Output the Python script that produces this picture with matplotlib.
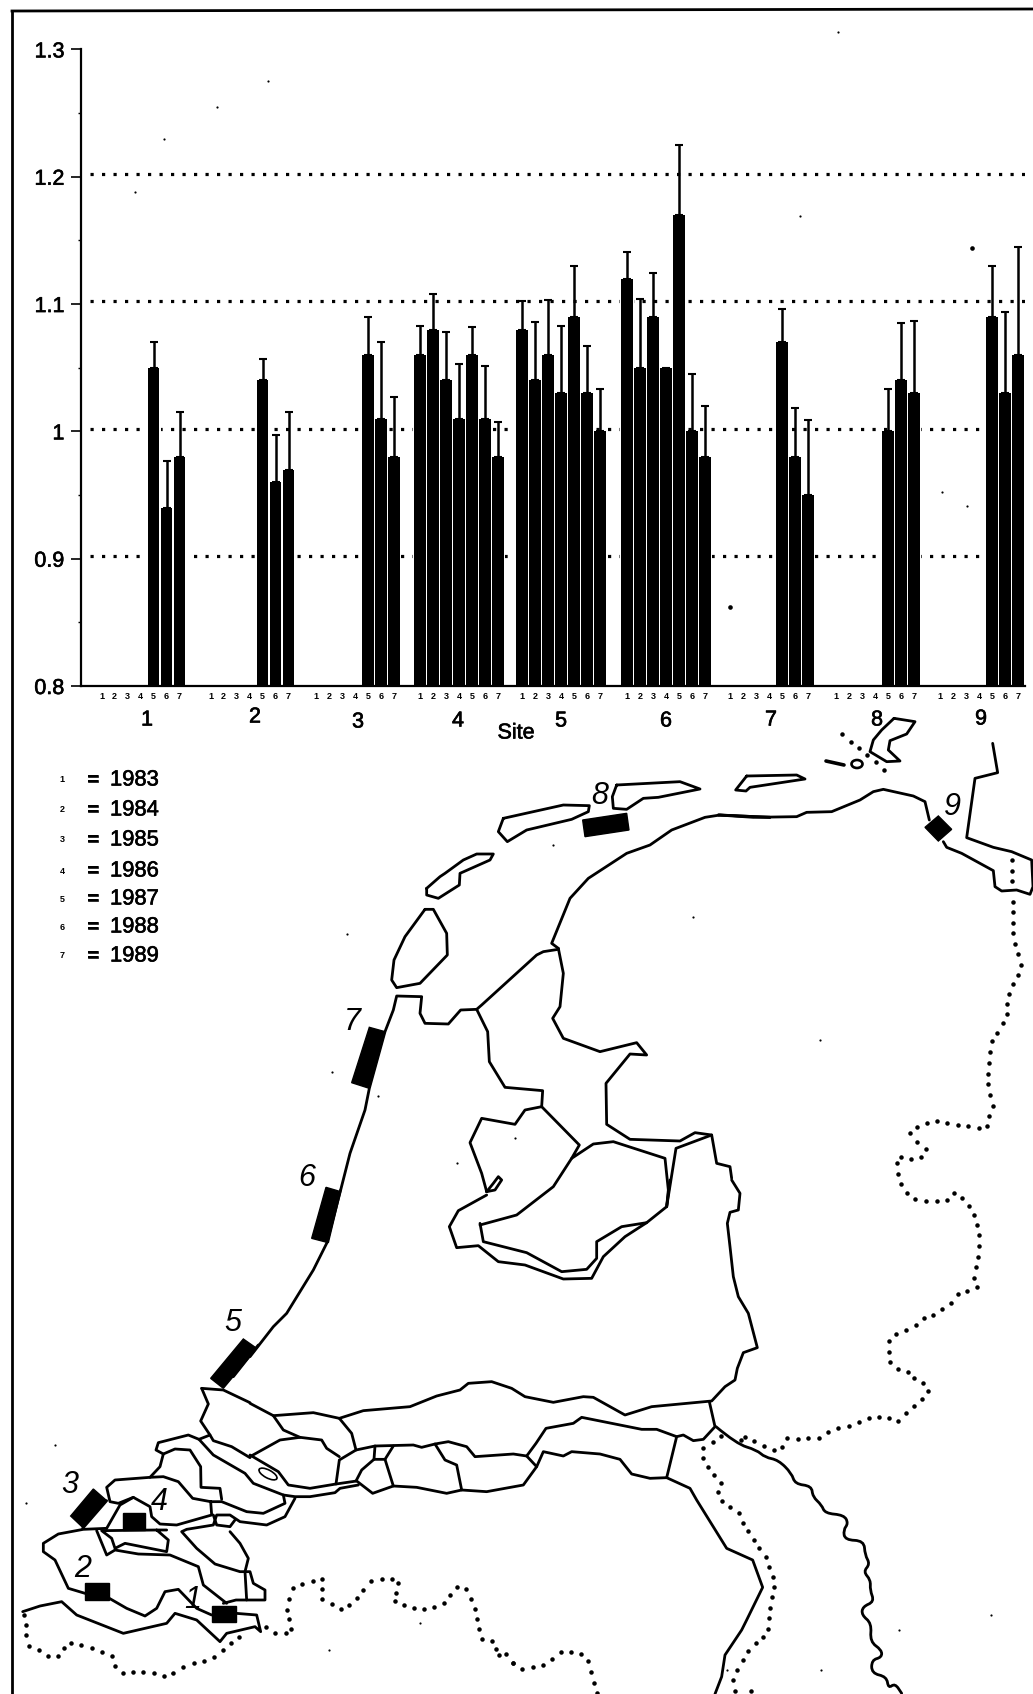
import matplotlib
matplotlib.use("Agg")
import matplotlib.pyplot as plt
import matplotlib.patheffects as pe
from matplotlib.patches import Polygon, Ellipse, PathPatch
from matplotlib.path import Path

plt.rcParams['font.family'] = ['Liberation Sans', 'DejaVu Sans']

# bar chart data, nan = no error bar
nan = float('nan')
sites = [1, 2, 3, 4, 5, 6, 7, 8, 9]
years_short = [5, 6, 7]
years_full = [1, 2, 3, 4, 5, 6, 7]
site_years = [years_short, years_short, years_short, years_full, years_full,
              years_full, years_short, years_short, years_short]
site_means = [[1.05, 0.94, 0.98],
              [1.04, 0.96, 0.97],
              [1.06, 1.01, 0.98],
              [1.06, 1.08, 1.04, 1.01, 1.06, 1.01, 0.98],
              [1.08, 1.04, 1.06, 1.03, 1.09, 1.03, 1.00],
              [1.12, 1.05, 1.09, 1.05, 1.17, 1.00, 0.98],
              [1.07, 0.98, 0.95],
              [1.00, 1.04, 1.03],
              [1.09, 1.03, 1.06]]
site_tops = [[1.07, 0.977, 1.015],
             [1.057, 0.997, 1.015],
             [1.09, 1.07, 1.027],
             [1.083, 1.108, 1.078, 1.053, 1.082, 1.051, 1.007],
             [1.102, 1.086, 1.103, 1.083, 1.13, 1.067, 1.033],
             [1.141, 1.104, 1.124, nan, 1.225, 1.045, 1.02],
             [1.096, 1.018, 1.009],
             [1.033, 1.085, 1.087],
             [1.13, 1.094, 1.145]]
y_ticks = [0.8, 0.9, 1.0, 1.1, 1.2, 1.3]
y_labels = ['0.8', '0.9', '1', '1.1', '1.2', '1.3']
y_minor = [0.85, 0.95, 1.05, 1.15, 1.25]
grid_levels = [0.9, 1.0, 1.1, 1.2]
legend_years = ['1983', '1984', '1985', '1986', '1987', '1988', '1989']

# where things sit on the sheet (pixels)
W, H = 1033, 1694
site_left = [101.5, 210.5, 316, 420, 522, 627, 730, 836, 940]
site_label_x = [147, 255, 358, 458, 561, 666, 771, 877, 981]
site_label_y = [720, 717, 722, 721, 721, 721, 720, 720, 719]
slot = 13
legend_y = [780, 810, 840, 871, 899, 927, 956]


def crop(x0, y0, pts):
    # traced on 3x crops, back to sheet pixels
    return [(x0 + p[0] / 3, y0 + p[1] / 3) for p in pts]


def wavy(pts):
    # rounded line through the midpoints, for the river
    verts = [pts[0]]
    codes = [Path.MOVETO]
    for i in range(1, len(pts) - 1):
        mid = ((pts[i][0] + pts[i + 1][0]) / 2, (pts[i][1] + pts[i + 1][1]) / 2)
        verts += [pts[i], mid]
        codes += [Path.CURVE3, Path.CURVE3]
    verts.append(pts[-1])
    codes.append(Path.LINETO)
    return Path(verts, codes)


# map outlines, traced per crop
lines_a = [
    [(605, 415), (625, 462), (602, 513), (630, 555), (640, 572), (695, 590), (750, 623)],
    [(630, 555), (597, 568), (640, 615), (735, 670), (760, 700), (850, 735), (855, 760), (790, 790), (740, 785), (665, 755), (632, 755), (578, 745), (535, 695), (490, 680), (450, 682), (345, 690), (320, 712), (330, 755), (355, 760), (400, 742), (450, 770), (455, 800), (480, 822), (530, 825), (635, 795), (632, 755)],
    [(597, 568), (565, 555), (475, 578), (468, 600), (490, 612), (525, 597), (570, 600), (602, 650), (603, 712), (660, 715), (665, 748)],
    [(490, 612), (480, 650), (450, 682)],
    [(400, 742), (360, 765), (320, 835)],
    [(320, 752), (248, 835)],
    [(500, 840), (470, 840), (305, 842), (335, 865), (345, 895), (375, 880), (450, 895), (500, 905), (505, 870), (470, 840)],
    [(320, 835), (250, 838), (175, 852), (130, 880), (130, 905), (165, 930), (205, 1015), (255, 1030), (328, 1045), (380, 1075), (435, 1098), (470, 1075), (495, 1025), (535, 1018), (590, 1075), (635, 1095)],
    [(290, 842), (320, 915), (345, 900), (415, 912), (510, 915), (595, 950), (610, 1005), (680, 1060)],
    [(670, 1060), (708, 1050), (795, 1050), (795, 1020), (760, 1000), (750, 965), (720, 965), (645, 942), (590, 895), (545, 845), (560, 838), (640, 825), (650, 795), (690, 795), (720, 815), (800, 825), (855, 800), (885, 745)],
    [(640, 795), (650, 825), (690, 830), (705, 810)],
    [(690, 845), (720, 880), (745, 925), (735, 965), (740, 1050)],
    [(68, 1085), (120, 1068), (185, 1055), (230, 1095), (370, 1150), (500, 1120), (525, 1090), (590, 1110), (660, 1175), (680, 1150), (765, 1130), (782, 1145), (770, 1095), (708, 1090)],
    [(775, 285), (700, 380)],
    [(605, 415), (670, 420), (750, 458)],
]
lines_b = [
    [(925, 715), (905, 700), (960, 565), (1015, 505), (1130, 430), (1200, 405), (1265, 360), (1365, 322), (1410, 315), (1560, 322)],
    [(925, 718), (880, 725), (860, 735), (695, 885), (680, 898), (632, 900), (595, 942), (525, 940), (510, 910), (515, 860), (440, 858), (430, 900), (405, 965), (358, 1135), (345, 1200), (300, 1330), (272, 1440)],
    [(925, 715), (940, 790), (930, 890), (908, 925), (940, 985), (1050, 1025), (1160, 998), (1190, 1035), (1140, 1032), (1068, 1120), (1070, 1243), (1140, 1288), (1290, 1293), (1335, 1268), (1385, 1275), (1400, 1360), (1440, 1370), (1445, 1405)],
    [(680, 898), (713, 965), (718, 1055), (765, 1132), (878, 1142), (875, 1190), (825, 1200), (795, 1243), (695, 1225), (660, 1298), (695, 1390), (710, 1445)],
    [(710, 1445), (735, 1440), (755, 1410), (745, 1400), (730, 1420), (710, 1445)],
    [(875, 1190), (988, 1305), (965, 1345), (1030, 1302), (1090, 1295), (1245, 1345), (1255, 1440), (1250, 1490)],
    [(1250, 1490), (1278, 1315), (1385, 1275)],
    [(965, 1345), (910, 1430), (800, 1515), (690, 1545)],
    [(525, 598), (550, 598), (590, 670), (592, 735), (510, 820), (440, 833), (425, 810), (432, 750), (465, 680), (525, 598)],
    [(530, 535), (570, 500), (585, 490), (640, 450), (680, 432), (730, 432), (720, 450), (630, 490), (628, 525), (565, 565), (530, 555), (530, 535)],
    [(760, 325), (940, 285), (1018, 287), (1015, 305), (965, 328), (830, 360), (772, 395), (745, 365), (760, 325)],
    [(1100, 225), (1290, 215), (1350, 237), (1225, 262), (1180, 265), (1130, 298), (1090, 295), (1087, 260), (1100, 225)],
]
lines_c = [
    [(390, 322), (235, 315)],
    [(235, 315), (340, 322), (470, 320), (500, 307), (575, 305), (660, 270), (700, 245), (730, 238), (820, 258), (855, 275), (868, 330)],
    [(910, 395), (920, 412), (965, 430), (1060, 482), (1065, 530), (1085, 543), (1130, 540), (1170, 553), (1179, 530), (1175, 450), (1115, 425), (1060, 412), (980, 383), (1005, 205), (1073, 188), (1058, 100)],
    [(320, 198), (470, 195), (495, 207), (330, 232), (318, 243), (287, 240), (320, 198)],
    [(762, 25), (825, 35), (800, 72), (750, 92), (745, 120), (780, 153), (740, 155), (690, 125), (700, 90), (725, 60), (762, 25)],
]
lines_d = [
    [(272, 30), (230, 190), (190, 270), (110, 400), (70, 440), (0, 530)],
    [(1445, 0), (1470, 40), (1465, 90), (1440, 97), (1432, 130), (1440, 200), (1450, 290), (1465, 350), (1495, 400), (1522, 503), (1480, 518), (1462, 565), (1455, 600), (1425, 620), (1385, 663), (1205, 680), (1125, 705), (1030, 652), (1000, 650), (910, 667), (825, 650), (785, 625), (725, 605), (655, 610), (630, 630), (560, 648), (480, 680), (340, 692), (268, 715), (190, 698), (70, 707), (0, 670)],
    [(710, 45), (625, 92), (598, 140), (620, 203), (685, 197), (745, 245), (825, 255), (940, 297), (1025, 295), (1060, 230), (1125, 170), (1190, 128), (1250, 80), (1260, 0)],
    [(690, 130), (700, 185), (830, 218), (935, 275), (1010, 268), (1040, 235), (1040, 185), (1115, 140), (1190, 128)],
    [(268, 715), (305, 760), (318, 810), (375, 798), (490, 795), (515, 802), (555, 792), (595, 785), (650, 800), (675, 830), (790, 822), (830, 828), (860, 860), (820, 915), (710, 935), (635, 930), (590, 940), (500, 922), (430, 918), (368, 940), (320, 903), (258, 912), (180, 925), (115, 915), (85, 875), (0, 825)],
    [(318, 810), (268, 840), (258, 912)],
    [(70, 707), (100, 750), (150, 772), (215, 780), (230, 805), (268, 830)],
    [(150, 772), (90, 780), (0, 830)],
    [(375, 798), (372, 838), (405, 838), (430, 798)],
    [(372, 838), (335, 870), (318, 903)],
    [(405, 838), (430, 918)],
    [(555, 792), (585, 840), (620, 855), (635, 930)],
    [(830, 828), (858, 790), (888, 745), (970, 730), (995, 712), (1175, 748), (1220, 748), (1280, 770), (1300, 765), (1330, 782), (1360, 778), (1395, 740), (1378, 665)],
    [(1280, 770), (1250, 893)],
    [(860, 860), (880, 815), (940, 828), (965, 815), (1050, 822), (1110, 838), (1145, 882), (1200, 895), (1250, 893), (1320, 925), (1340, 960), (1430, 1105), (1508, 1140), (1538, 1222), (1490, 1320), (1475, 1350), (1425, 1425), (1415, 1490), (1395, 1542)],
    [(100, 945), (135, 950), (180, 950), (255, 938), (270, 925), (325, 915)],
]
lines_e = [
    [(228, 740), (290, 792), (350, 810), (375, 832), (415, 840), (455, 880), (465, 912), (515, 918), (518, 950), (545, 975), (555, 1000), (612, 1005), (625, 1030), (610, 1050), (615, 1080), (672, 1082), (675, 1125), (690, 1152), (670, 1175), (692, 1200), (690, 1230), (703, 1265), (668, 1280), (665, 1305), (695, 1330), (690, 1385), (725, 1410), (725, 1432), (695, 1440), (695, 1480), (740, 1490), (745, 1525), (765, 1510), (785, 1540)],
]

# border dots
dots_a = [(72, 1095), (78, 1125), (78, 1155), (88, 1187), (117, 1200), (143, 1217), (175, 1217), (192, 1193), (212, 1178), (243, 1185), (275, 1195), (307, 1205), (337, 1217), (345, 1247), (368, 1270), (398, 1267), (430, 1265), (462, 1268), (492, 1277), (520, 1270), (550, 1252), (582, 1240), (612, 1232), (642, 1222), (668, 1200), (692, 1180), (718, 1160), (798, 1130), (825, 1150), (857, 1150), (873, 1138), (867, 1108), (860, 1080), (868, 1048), (880, 1015), (907, 1002), (938, 994), (967, 987), (965, 1018), (965, 1048), (995, 1062), (1022, 1078), (1047, 1066), (1070, 1043), (1090, 1020), (1112, 993), (1145, 987), (1175, 987), (1193, 1000), (1188, 1030), (1185, 1053), (1213, 1065), (1243, 1075), (1272, 1077), (1302, 1070), (1333, 1058), (1350, 1035), (1372, 1012), (1397, 1018), (1413, 1048), (1425, 1078), (1432, 1107), (1437, 1137), (1445, 1166), (1475, 1173), (1487, 1197), (1497, 1215), (1518, 1213), (1540, 1238)]
dots_c = [(1115, 450), (1115, 482), (1115, 512), (1118, 575), (1118, 607), (1118, 638), (1120, 670), (1125, 703), (1135, 733), (1143, 765), (1133, 795), (1118, 823), (1108, 852), (1102, 883), (1100, 912), (1088, 940), (1072, 968), (1055, 993), (1050, 1027), (1048, 1058), (1045, 1092), (1045, 1123), (1050, 1155), (1058, 1187), (1048, 1217), (1042, 1248), (1018, 1253), (985, 1248), (953, 1245), (922, 1240), (892, 1233), (860, 1238), (830, 1250), (810, 1270), (832, 1295), (857, 1318), (843, 1340), (813, 1347), (782, 1342), (772, 1360), (775, 1393), (782, 1423), (802, 1448), (826, 1468), (858, 1472), (890, 1473), (920, 1470), (943, 1450), (965, 1465), (987, 1487), (605, 72), (632, 95), (658, 115), (680, 135), (708, 157), (732, 180)]
dots_d = [(790, 1450), (817, 1467), (848, 1462), (880, 1455), (907, 1437), (933, 1416), (963, 1416), (993, 1422), (1015, 1442), (1022, 1475), (1033, 1510), (1042, 1540)]
dots_e = [(1002, 105), (1012, 135), (1018, 165), (1018, 198), (1013, 230), (1008, 260), (1003, 293), (1012, 322), (982, 332), (953, 343), (933, 368), (907, 388), (880, 405), (852, 415), (828, 435), (798, 450), (768, 462), (748, 482), (748, 515), (750, 547), (773, 567), (803, 577), (822, 595), (850, 610), (865, 632), (847, 658), (822, 677), (798, 698), (775, 722), (748, 715), (718, 710), (688, 715), (657, 727), (627, 738), (595, 745), (565, 755), (538, 775), (505, 775), (473, 777), (440, 775), (427, 800), (402, 810), (372, 797), (342, 783), (315, 770), (303, 780), (242, 768), (218, 787), (188, 803), (190, 833), (203, 860), (223, 884), (243, 908), (233, 936), (245, 962), (270, 982), (296, 998), (310, 1028), (324, 1053), (342, 1080), (358, 1105), (378, 1130), (388, 1160), (400, 1190), (403, 1220), (395, 1252), (390, 1283), (386, 1315), (384, 1346), (370, 1372), (347, 1390), (325, 1413), (308, 1440), (292, 1470), (278, 1500), (285, 1532), (333, 1532)]

# site boxes on the map
box_a = [[(730, 267), (770, 295), (670, 415), (632, 385)],
         [(280, 717), (320, 752), (248, 832), (212, 798)],
         [(368, 790), (436, 790), (436, 840), (368, 840)],
         [(255, 998), (328, 998), (328, 1050), (255, 1050)],
         [(635, 1067), (708, 1067), (708, 1115), (635, 1115)]]
box_b = [[(998, 330), (1130, 310), (1137, 360), (1005, 380)],
         [(358, 952), (405, 965), (358, 1135), (305, 1118)]]
box_c = [[(895, 318), (935, 358), (895, 393), (855, 352)]]
box_d = [[(228, 22), (272, 35), (235, 188), (185, 175)]]

map_labels = ['1', '2', '3', '4', '5', '6', '7', '8', '9']
map_label_x = [193, 83, 70, 159, 233, 307, 352, 600, 952]
map_label_y = [1600, 1569, 1485, 1502, 1323, 1178, 1022, 796, 807]

# scan specks
specks = [(164, 139), (135, 192), (268, 81), (217, 107), (838, 32), (800, 216), (942, 492), (967, 506),
          (553, 845), (693, 917), (347, 934), (332, 1072), (457, 1163), (515, 1138), (378, 1096), (820, 1040),
          (55, 1445), (26, 1503), (329, 1650), (420, 1623), (172, 1673), (899, 1630), (991, 1615), (727, 1670), (821, 1670)]
blobs = [(730, 607), (972, 248)]

bold = [pe.withStroke(linewidth=0.45, foreground='black')]

fig = plt.figure(figsize=(W / 100, H / 100), dpi=100)
bg = fig.add_axes([0, 0, 1, 1])
bg.set_xlim(0, W)
bg.set_ylim(H, 0)
bg.axis('off')

# outer frame of the scan
bg.plot([12, 12], [H, 11], color='black', lw=2)
bg.plot([12, W], [11, 9], color='black', lw=2)

for x0, y0, group in [(0, 1250, lines_a), (250, 710, lines_b), (640, 710, lines_c), (250, 1180, lines_d)]:
    for line in group:
        pts = crop(x0, y0, line)
        bg.plot([p[0] for p in pts], [p[1] for p in pts], color='black', lw=2,
                solid_joinstyle='round', solid_capstyle='round')

for line in lines_e:
    bg.add_patch(PathPatch(wavy(crop(640, 1180, line)), fill=False, edgecolor='black', lw=2, capstyle='round'))

for x0, y0, group in [(0, 1250, dots_a), (640, 710, dots_c), (250, 1180, dots_d), (640, 1180, dots_e)]:
    pts = crop(x0, y0, group)
    bg.scatter([p[0] for p in pts], [p[1] for p in pts], s=10.5, color='black', linewidths=0)

bg.scatter([p[0] for p in specks], [p[1] for p in specks], s=2.5, color='black', linewidths=0)
bg.scatter([p[0] for p in blobs], [p[1] for p in blobs], s=11, color='black', linewidths=0)

for x0, y0, group in [(0, 1250, box_a), (250, 710, box_b), (640, 710, box_c), (250, 1180, box_d)]:
    for box in group:
        bg.add_patch(Polygon(crop(x0, y0, box), closed=True, color='black', zorder=4))

bg.add_patch(Ellipse((268, 1474), 20, 8, angle=28, fill=False, color='black', lw=1.2))
bg.add_patch(Ellipse((857, 764), 11, 8, angle=0, fill=False, color='black', lw=1.9))
bg.plot([826, 844], [761, 765], color='black', lw=2.6, solid_capstyle='round')

for i in range(len(map_labels)):
    bg.text(map_label_x[i], map_label_y[i], map_labels[i], style='italic', fontsize=22,
            ha='center', va='center', zorder=5)

# legend
for i in range(len(legend_years)):
    bg.text(62, legend_y[i], str(i + 1), fontsize=6.5, fontweight='bold', ha='center', va='center')
    bg.text(93, legend_y[i], '=', fontsize=15, ha='center', va='center', path_effects=bold)
    bg.text(110, legend_y[i], legend_years[i], fontsize=15.8, ha='left', va='center', path_effects=bold)

# site labels under the chart
for i in range(len(sites)):
    bg.text(site_label_x[i], site_label_y[i], str(sites[i]), fontsize=15.5, ha='center', va='center',
            path_effects=bold, zorder=5)
bg.text(516, 733, 'Site', fontsize=15.5, ha='center', va='center', path_effects=bold, zorder=5)

# bar chart, x in sheet pixels
ax = fig.add_axes([81 / W, 1 - 686 / H, (1025 - 81) / W, (686 - 49.4) / H])
ax.patch.set_alpha(0)
ax.set_xlim(81, 1025)
ax.set_ylim(0.8, 1.3)

ax.hlines([v + 0.002 for v in grid_levels], 90, 1025, color='black', lw=2.3, linestyles=(0, (1, 2.6)), zorder=1)

xs = []
for i in range(len(sites)):
    x = [site_left[i] + (y - 1) * slot for y in site_years[i]]
    h = [m - 0.8 for m in site_means[i]]
    ax.bar(x, h, width=14, bottom=0.8, color='white', zorder=2)
    ax.bar(x, h, width=11.2, bottom=0.8, color='black', zorder=3)
    up = [t - m for t, m in zip(site_tops[i], site_means[i])]
    down = [0 for m in site_means[i]]
    ax.errorbar(x, site_means[i], yerr=[down, up], fmt='none', ecolor='black', elinewidth=1.8,
                capsize=3.2, capthick=1.5, zorder=3, clip_on=False)
    for y in years_full:
        xs.append(site_left[i] + (y - 1) * slot)

ax.spines['top'].set_visible(False)
ax.spines['right'].set_visible(False)
ax.spines['left'].set_linewidth(1.6)
ax.spines['bottom'].set_linewidth(1.6)
ax.set_yticks(y_ticks)
ax.set_yticklabels(y_labels, fontsize=15.5, path_effects=bold)
ax.set_yticks(y_minor, minor=True)
ax.tick_params(axis='y', which='major', length=7, width=1.2, pad=5)
ax.tick_params(axis='y', which='minor', length=2, width=1)
ax.set_xticks(xs)
ax.set_xticklabels([str(y) for s in sites for y in years_full], fontsize=6.5, fontweight='bold')
ax.tick_params(axis='x', length=0, pad=4.5)

fig.savefig('out.png', dpi=100)
